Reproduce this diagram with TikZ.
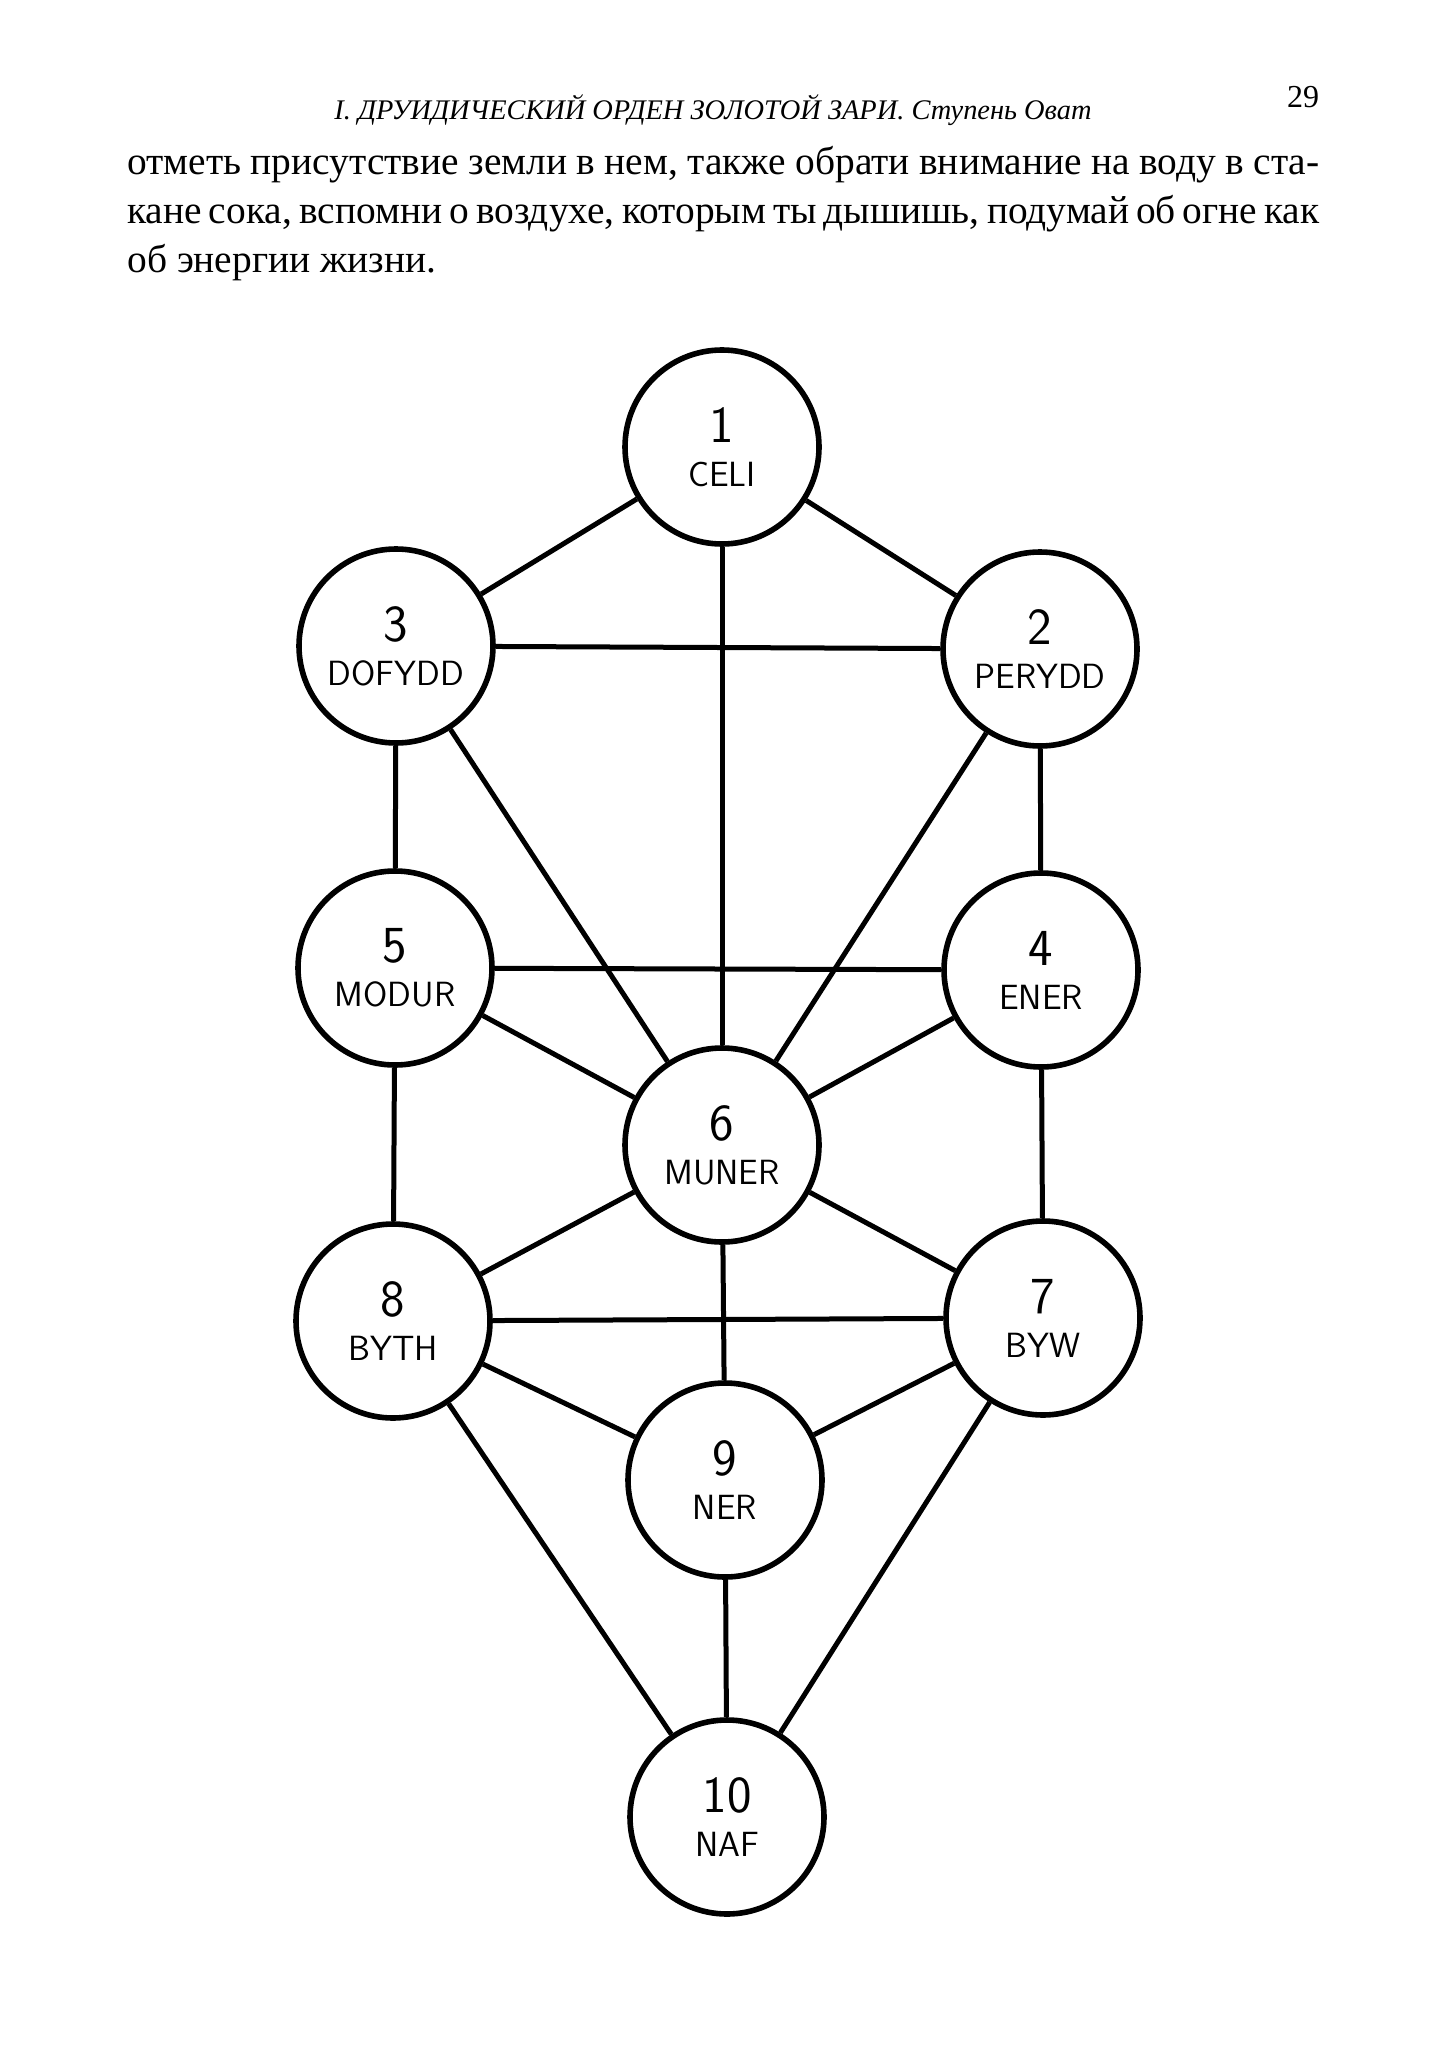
\documentclass[tikz,border=0pt]{standalone}
\usepackage{fontspec}
\setmainfont{Liberation Serif}
\begin{document}
\begin{tikzpicture}[x=0.5pt,y=-0.5pt,
  sefira/.style={circle,draw,line width=2.8pt,minimum size=97pt,inner sep=0pt,align=center,
    font=\sffamily\fontsize{17.5}{22}\selectfont},
  conn/.style={line width=2.5pt}]
\fill[white] (0,0) rectangle (1443,2048);
% header
\node[anchor=base,inner sep=0pt,font=\itshape\fontsize{14.2}{16}\selectfont] (head) at (713,120)
  {I. ДРУИДИЧЕСКИЙ ОРДЕН ЗОЛОТОЙ ЗАРИ. Ступень Оват};
\node[anchor=base,inner sep=0pt,font=\fontsize{16}{18}\selectfont] (page) at (1303,108) {29};
% body text
\node[anchor=base west,inner sep=0pt,font=\fontsize{19.7}{24.5}\selectfont] (body) at (127,175)
  {\parbox[t]{596pt}{%
   \hbox to 596pt{отметь присутствие земли в нем, также обрати внимание на воду в ста-}%
   \hbox to 596pt{кане сока, вспомни о воздухе, которым ты дышишь, подумай об огне как}%
   \hbox{об энергии жизни.}}};
% sefirot
\newcommand\nm[1]{{\fontsize{26}{22}\selectfont #1}}
\node[sefira] (n1) at (722,447) {\nm{1}\\CELI};
\node[sefira] (n2) at (1040,649) {\nm{2}\\PERYDD};
\node[sefira] (n3) at (396,646) {\nm{3}\\DOFYDD};
\node[sefira] (n4) at (1041,970) {\nm{4}\\ENER};
\node[sefira] (n5) at (395,968) {\nm{5}\\MODUR};
\node[sefira] (n6) at (722,1145) {\nm{6}\\MUNER};
\node[sefira] (n7) at (1043,1318) {\nm{7}\\BYW};
\node[sefira] (n8) at (393,1321) {\nm{8}\\BYTH};
\node[sefira] (n9) at (725,1480) {\nm{9}\\NER};
\node[sefira] (n10) at (727,1817) {\nm{10}\\NAF};
% paths
\draw[conn] (n1) -- (n3);
\draw[conn] (n1) -- (n2);
\draw[conn] (n1) -- (n6);
\draw[conn] (n3) -- (n2);
\draw[conn] (n3) -- (n5);
\draw[conn] (n3) -- (n6);
\draw[conn] (n2) -- (n4);
\draw[conn] (n2) -- (n6);
\draw[conn] (n5) -- (n4);
\draw[conn] (n5) -- (n6);
\draw[conn] (n4) -- (n6);
\draw[conn] (n5) -- (n8);
\draw[conn] (n4) -- (n7);
\draw[conn] (n6) -- (n8);
\draw[conn] (n6) -- (n7);
\draw[conn] (n6) -- (n9);
\draw[conn] (n8) -- (n7);
\draw[conn] (n8) -- (n9);
\draw[conn] (n7) -- (n9);
\draw[conn] (n8) -- (n10);
\draw[conn] (n7) -- (n10);
\draw[conn] (n9) -- (n10);
\end{tikzpicture}
\end{document}
